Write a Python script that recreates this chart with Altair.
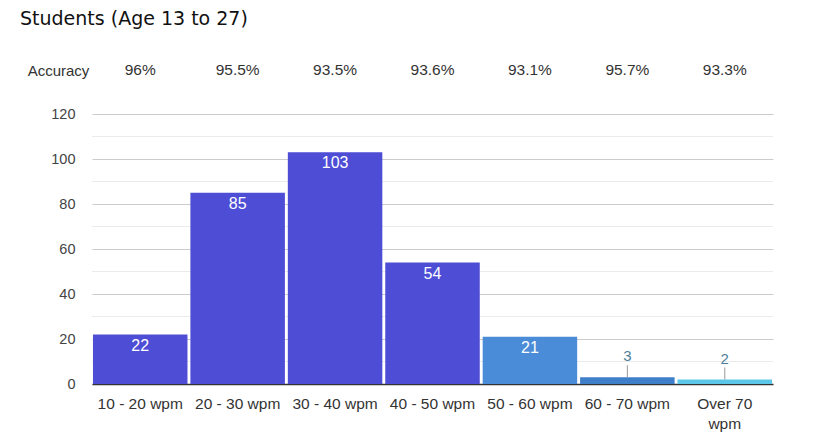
import altair as alt
import pandas as pd

categories = ["10 - 20 wpm", "20 - 30 wpm", "30 - 40 wpm", "40 - 50 wpm",
              "50 - 60 wpm", "60 - 70 wpm", "Over 70 wpm"]
students = [22, 85, 103, 54, 21, 3, 2]
accuracy = ["96%", "95.5%", "93.5%", "93.6%", "93.1%", "95.7%", "93.3%"]
bar_colors = ["#4d4dd6", "#4d4dd6", "#4d4dd6", "#4d4dd6", "#4a8cd8", "#3f7fc9", "#5cc6e8"]
label_inside = [True, True, True, True, True, False, False]

df = pd.DataFrame({
    "cat": categories,
    "n": students,
    "acc": accuracy,
    "color": bar_colors,
    "inside": label_inside,
})

x = alt.X("cat:N", sort=categories, title=None,
          scale=alt.Scale(paddingInner=0.03, paddingOuter=0.01),
          axis=alt.Axis(labelAngle=0, labelFont="Liberation Sans", labelFontSize=15.5,
                        labelColor="#333333", ticks=False, domain=True, grid=False,
                        domainColor="#333333", domainWidth=1.5, labelPadding=12,
                        labelLimit=100, labelLineHeight=20,
                        labelExpr="datum.value == 'Over 70 wpm' ? ['Over 70', 'wpm'] : datum.value"))

y = alt.Y("n:Q", title="Accuracy",
          scale=alt.Scale(domain=[0, 120], nice=False),
          axis=alt.Axis(values=[0, 20, 40, 60, 80, 100, 120], domain=False, ticks=False,
                        labelFont="Liberation Sans", labelFontSize=14.5, labelColor="#444444",
                        labelPadding=17, gridColor="#cccccc", grid=True,
                        titleAngle=0, titleX=-34, titleY=-44, titleAlign="center",
                        titleBaseline="middle", titleFont="Liberation Sans",
                        titleFontSize=15, titleFontWeight="normal", titleColor="#333333"))

base = alt.Chart(df)

minor = alt.Chart(pd.DataFrame({"v": [10, 30, 50, 70, 90, 110]})).mark_rule(
    color="#ebebeb", strokeWidth=1).encode(y=alt.Y("v:Q"))

bars = base.mark_bar().encode(x=x, y=y, color=alt.Color("color:N", scale=None))

inside_lbl = base.transform_filter("datum.inside").mark_text(
    baseline="top", dy=3, color="white", font="Liberation Sans", fontSize=16
).encode(x=alt.X("cat:N", sort=categories), y="n:Q", text="n:Q")

outside_lbl = base.transform_filter("!datum.inside").mark_text(
    baseline="middle", dy=-21, color="#4f7f9c", font="Liberation Sans", fontSize=15
).encode(x=alt.X("cat:N", sort=categories), y="n:Q", text="n:Q")

leader = base.transform_filter("!datum.inside").mark_rule(
    color="#999999", strokeWidth=1, y2Offset=-12
).encode(x=alt.X("cat:N", sort=categories), y="n:Q", y2="n:Q")

acc_lbl = base.mark_text(
    baseline="middle", color="#333333", font="Liberation Sans", fontSize=15.5
).encode(x=alt.X("cat:N", sort=categories), y=alt.value(-44), text="acc:N")

chart = alt.layer(minor, bars, inside_lbl, outside_lbl, leader, acc_lbl).properties(
    width=681, height=270,
    autosize=alt.AutoSizeParams(type="none"),
    padding={"left": 84, "top": 106, "right": 40, "bottom": 53},
    title=alt.TitleParams("Students (Age 13 to 27)", anchor="start", frame="group",
                          font="DejaVu Sans", fontSize=19, fontWeight="normal",
                          color="#111111", dx=-72, offset=34)
).configure_view(stroke=None)

chart.save("out.html", embed_options={"renderer": "svg", "actions": False})
